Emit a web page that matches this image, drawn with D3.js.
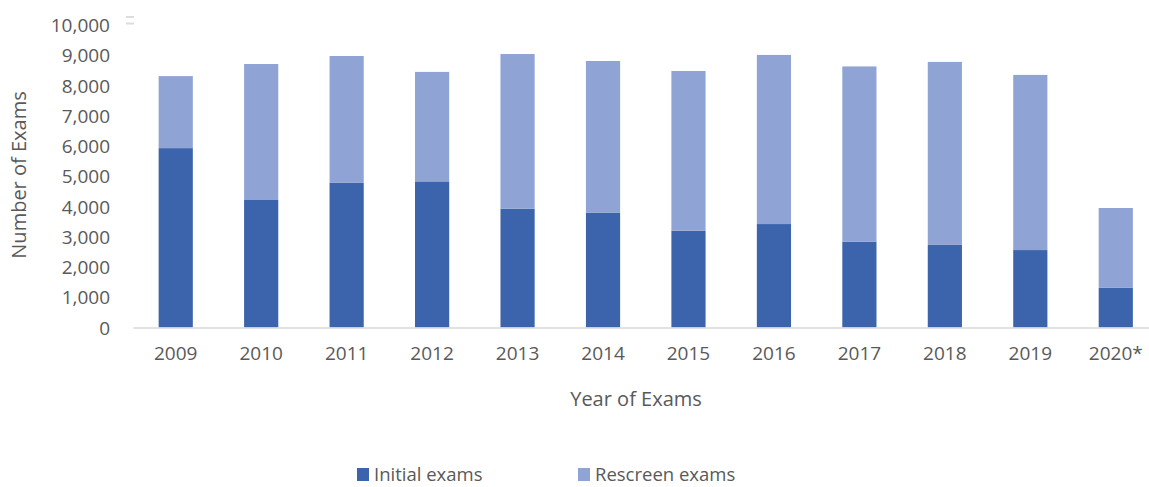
<!DOCTYPE html>
<html>
<head>
<meta charset="utf-8">
<script src="https://cdn.jsdelivr.net/npm/d3@7"></script>
<style>
	body { margin: 0; background: #fff; }
	svg text { font-family: "Open Sans", "Noto Sans", sans-serif; fill: #595959; }
</style>
</head>
<body>
<div id="graph"></div>
<script>
// chart data
var years = ["2009", "2010", "2011", "2012", "2013", "2014", "2015", "2016", "2017", "2018", "2019", "2020*"];
var initialExams = [5930, 4215, 4780, 4830, 3930, 3800, 3200, 3420, 2840, 2730, 2560, 1310];
var rescreenExams = [2380, 4495, 4195, 3620, 5110, 5010, 5280, 5590, 5790, 6050, 5790, 2640];
var seriesNames = ["Initial exams", "Rescreen exams"];
var yTicks = [0, 1000, 2000, 3000, 4000, 5000, 6000, 7000, 8000, 9000, 10000];

var SVGwidth = 1149,
	SVGheight = 487,
	plotLeft = 133,
	plotRight = 1158.5,
	plotTop = 25,
	plotBottom = 327.5;

var svg = d3.select('div#graph')
	.append('svg')
	.attr('width', SVGwidth)
	.attr('height', SVGheight);

var x = d3.scaleBand()
	.domain(years)
	.range([plotLeft, plotRight])
	.paddingInner(0.6)
	.paddingOuter(0.3);

var y = d3.scaleLinear()
	.domain([0, 10000])
	.range([plotBottom, plotTop]);

var color = d3.scaleOrdinal()
	.domain(seriesNames)
	.range(["#3B64AD", "#8FA3D4"]);

var table = years.map(function(yr, i) {
	return { year: yr, "Initial exams": initialExams[i], "Rescreen exams": rescreenExams[i] };
});
var stacked = d3.stack().keys(seriesNames)(table);

// bars
svg.append("g").selectAll("g")
	.data(stacked)
	.enter()
	.append("g")
	.attr("fill", function(d) { return color(d.key); })
	.selectAll("rect")
	.data(function(d) { return d; })
	.enter()
	.append("rect")
	.attr("x", function(d) { return x(d.data.year); })
	.attr("width", x.bandwidth())
	.attr("y", function(d) { return y(d[1]); })
	.attr("height", function(d) { return y(d[0]) - y(d[1]); });

// x axis
var xAxis = d3.axisBottom(x).tickSize(0).tickPadding(19);
var gx = svg.append("g")
	.attr("transform", "translate(0," + plotBottom + ")")
	.call(xAxis);
gx.select(".domain").attr("stroke", "#D9D9D9").attr("stroke-width", 1.5);
gx.selectAll("text").style("font-size", "19px");

// y axis
var yAxis = d3.axisLeft(y).tickValues(yTicks).tickSize(0).tickPadding(23).tickFormat(d3.format(","));
var gy = svg.append("g")
	.attr("transform", "translate(" + plotLeft + ",0)")
	.call(yAxis);
gy.select(".domain").remove();
gy.selectAll("text").style("font-size", "19px").attr("dy", "0.35em");

// little grey mark by the top tick
svg.append("g").selectAll("rect")
	.data([0, 1])
	.enter()
	.append("rect")
	.attr("x", 126)
	.attr("y", function(d) { return 16 + d * 6.5; })
	.attr("width", 8)
	.attr("height", 2)
	.attr("fill", "#DDDDDD");

// axis titles
svg.append("text")
	.attr("transform", "translate(26,175) rotate(-90)")
	.attr("text-anchor", "middle")
	.style("font-size", "20px")
	.text("Number of Exams");

svg.append("text")
	.attr("x", 636)
	.attr("y", 406)
	.attr("text-anchor", "middle")
	.style("font-size", "20px")
	.text("Year of Exams");

// legend
var legendX = [357, 578];
var legend = svg.append("g").selectAll("g")
	.data(seriesNames)
	.enter()
	.append("g")
	.attr("transform", function(d, i) { return "translate(" + legendX[i] + ",468)"; });

legend.append("rect")
	.attr("width", 12)
	.attr("height", 13)
	.attr("fill", function(d) { return color(d); });

legend.append("text")
	.attr("x", 17)
	.attr("y", 13)
	.style("font-size", "18.5px")
	.text(function(d) { return d; });
</script>
</body>
</html>
